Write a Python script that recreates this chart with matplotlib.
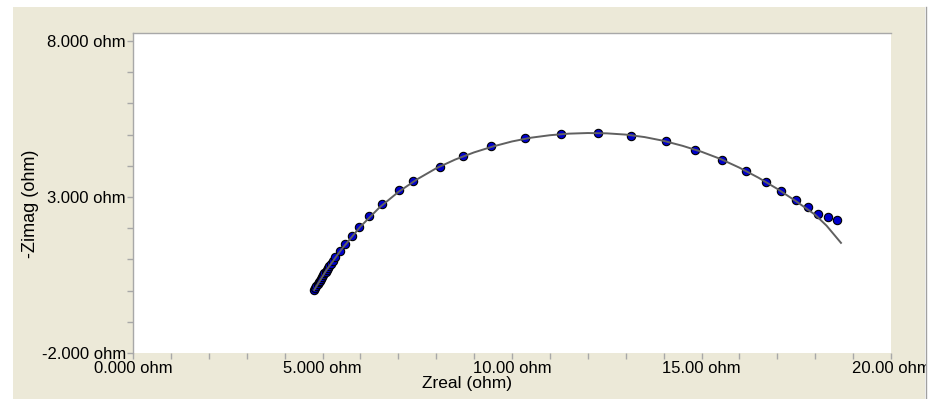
import matplotlib
matplotlib.use("Agg")
import matplotlib.pyplot as plt
from matplotlib.patches import Rectangle
from matplotlib.ticker import MultipleLocator, FormatStrFormatter

# measured impedance points (ohm)
z_real = [4.78, 4.81, 4.84, 4.87, 4.90, 4.93, 4.96, 4.99, 5.02, 5.05, 5.08,
          5.11, 5.14, 5.18, 5.22, 5.27, 5.33, 5.46, 5.59, 5.78, 5.96, 6.23,
          6.57, 7.02, 7.39, 8.10, 8.71, 9.45, 10.34, 11.29, 12.27, 13.14,
          14.06, 14.83, 15.54, 16.17, 16.70, 17.10, 17.49, 17.81, 18.07,
          18.34, 18.58]
z_imag = [0.02, 0.08, 0.14, 0.20, 0.26, 0.32, 0.38, 0.43, 0.49, 0.55, 0.60,
          0.66, 0.72, 0.79, 0.86, 0.96, 1.08, 1.27, 1.49, 1.75, 2.04, 2.39,
          2.78, 3.22, 3.51, 3.96, 4.31, 4.63, 4.89, 5.02, 5.05, 4.96,
          4.79, 4.51, 4.19, 3.83, 3.48, 3.19, 2.90, 2.68, 2.46,
          2.36, 2.26]

# fitted curve
fit_real = [4.78, 5.1, 5.5, 6.0, 6.5, 7.0, 7.5, 8.0, 8.5, 9.0, 9.5, 10.0,
            10.5, 11.0, 11.5, 12.0, 12.5, 13.0, 13.5, 14.0, 14.5, 15.0,
            15.5, 16.0, 16.5, 17.0, 17.5, 18.0, 18.3, 18.68]
fit_imag = [0.02, 0.65, 1.32, 2.05, 2.66, 3.16, 3.57, 3.92, 4.20, 4.43,
            4.62, 4.78, 4.90, 4.98, 5.03, 5.05, 5.04, 5.00, 4.92, 4.80,
            4.64, 4.45, 4.22, 3.94, 3.62, 3.26, 2.86, 2.43, 2.08, 1.53]

BEIGE = "#ECE9D8"
TICK = "#A8A8A8"

plt.rcParams["font.family"] = ["Liberation Sans", "DejaVu Sans"]

fig = plt.figure(figsize=(9.34, 3.99), dpi=100, facecolor="white")
W, H = 934, 399
fig.patches.append(Rectangle((13 / W, 0), (925 - 13) / W, 1 - 7 / H,
                             transform=fig.transFigure, facecolor=BEIGE,
                             edgecolor="none", zorder=-2))
# window edge on the right cuts off the last tick label
fig.patches.append(Rectangle((926 / W, 0), 8 / W, 1,
                             transform=fig.transFigure, facecolor="white",
                             edgecolor="none", zorder=10))
fig.lines.append(plt.Line2D([925.5 / W, 925.5 / W], [0, 1 - 7 / H],
                            transform=fig.transFigure, color="#A0A0A0", lw=1,
                            zorder=11))

ax = fig.add_axes([133 / W, 1 - 353 / H, (891 - 133) / W, (353 - 33) / H])
ax.set_facecolor("white")

ax.scatter(z_real, z_imag, s=36, color="#0000CC", edgecolors="black",
           linewidths=0.8, zorder=3)
ax.plot(fit_real, fit_imag, color="#606060", lw=1.4, zorder=4)

ax.set_xlim(0, 20)
ax.set_ylim(-2, 8.256)
ax.xaxis.set_major_locator(MultipleLocator(5))
ax.xaxis.set_minor_locator(MultipleLocator(1))
ax.yaxis.set_minor_locator(MultipleLocator(1))
ax.set_yticks([-2, 3, 8])
ax.xaxis.set_major_formatter(plt.FuncFormatter(
    lambda v, p: f"{v:.2f} ohm" if v >= 10 else f"{v:.3f} ohm"))
ax.yaxis.set_major_formatter(FormatStrFormatter("%.3f ohm"))

for s in ["bottom", "right"]:
    ax.spines[s].set_visible(False)
for s in ["left", "top"]:
    ax.spines[s].set_color(TICK)
    ax.spines[s].set_linewidth(1)

ax.tick_params(which="both", direction="out", length=4, width=1, color=TICK,
               labelsize=12, labelcolor="black")
ax.tick_params(axis="x", which="both", pad=2)
ax.tick_params(axis="y", which="both", pad=1)

ax.set_xlabel("Zreal (ohm)", fontsize=12.5, va="center")
ax.set_ylabel("-Zimag (ohm)", fontsize=13, va="center")
ax.xaxis.set_label_coords(0.4406, -0.094)
ax.yaxis.set_label_coords(-0.135, 0.466)

fig.savefig("out.png", dpi=100, facecolor="white")
